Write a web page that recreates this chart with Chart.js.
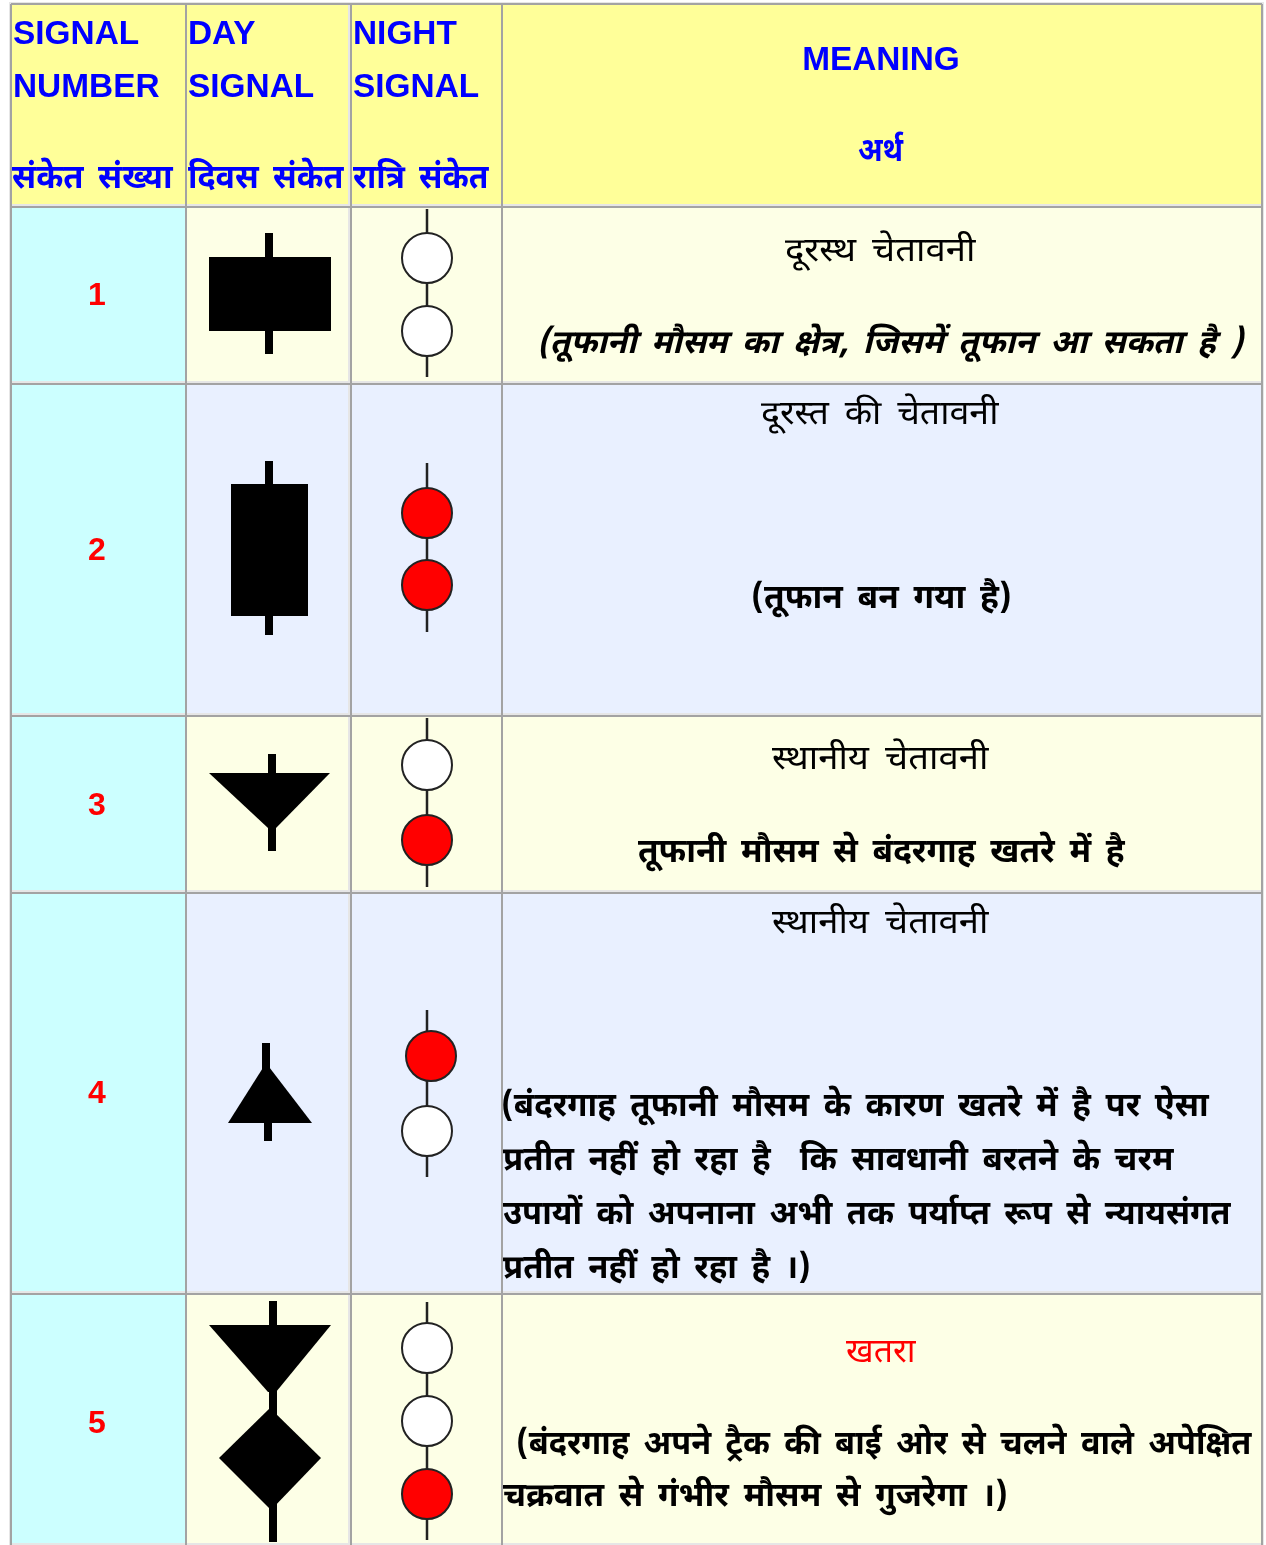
<!DOCTYPE html>
<html>
<head>
<meta charset="utf-8">
<style>
html,body{margin:0;padding:0;background:#fff;}
canvas{display:block;}
</style>
<script src="https://cdn.jsdelivr.net/npm/chart.js@4"></script>
</head>
<body>
<canvas id="signalChart" width="1266" height="1545"></canvas>
<script>
// table text
var signalNumbers = ["1","2","3","4","5"];
var headerLatin = ["SIGNAL","NUMBER","DAY","SIGNAL","NIGHT","SIGNAL","MEANING"];
var headerHindi = ["संकेत संख्या","दिवस संकेत","रात्रि संकेत","अर्थ"];
var warningTitles = ["दूरस्थ चेतावनी","दूरस्त की चेतावनी","स्थानीय चेतावनी","स्थानीय चेतावनी","खतरा"];
var warningNotes = [
	"(तूफानी मौसम का क्षेत्र, जिसमें तूफान आ सकता है )",
	"(तूफान बन गया है)",
	"तूफानी मौसम से बंदरगाह खतरे में है",
	"(बंदरगाह तूफानी मौसम के कारण खतरे में है पर ऐसा",
	"प्रतीत नहीं हो रहा है  कि सावधानी बरतने के चरम",
	"उपायों को अपनाना अभी तक पर्याप्त रूप से न्यायसंगत",
	"प्रतीत नहीं हो रहा है ।)",
	"(बंदरगाह अपने ट्रैक की बाई ओर से चलने वाले अपेक्षित",
	"चक्रवात से गंभीर मौसम से गुजरेगा ।)"
];

// night signal lamps, one list per row
var nightLamps = [
	["white","white"],
	["red","red"],
	["white","red"],
	["red","white"],
	["white","white","red"]
];

// table grid
var colEdges = [11,186,351,502,1262];
var rowEdges = [4,207,384,716,893,1294,1546];

// lamp centres and stems
var lampX = [[427,427],[427,427],[427,427],[431,427],[427,427,427]];
var lampY = [[258,331],[513,585],[765,840],[1056,1131],[1348,1421,1494]];
var stemX = [427,427,427,427,427];
var stemTop = [209,463,718,1010,1302];
var stemBottom = [377,632,887,1177,1540];

// day signal outlines
var dayShapes = [
	[[209,257],[331,257],[331,331],[209,331]],
	[[231,484],[308,484],[308,616],[231,616]],
	[[209,773],[330,773],[276,828],[268,828]],
	[[266,1063],[312,1123],[228,1123]],
	[[209,1325],[331,1325],[276,1392],[268,1392]],
	[[270,1408],[321,1458],[271,1510],[219,1458]]
];
// day signal masts: x left, x right, y top, y bottom
var dayMasts = [
	[265,273,233,354],
	[265,273,461,635],
	[268,276,754,851],
	[262,270,1043,1075],
	[264,272,1115,1141],
	[269,277,1301,1330],
	[269,277,1385,1420],
	[269,277,1500,1542]
];

var HINDI = '"Noto Sans Devanagari","Lohit Devanagari","Mangal","Noto Sans","FreeSans",sans-serif';
var LATIN = '"Liberation Sans",Arial,sans-serif';

function rectPoints(x0,x1,y0,y1){
	return [{x:x0,y:y0},{x:x1,y:y0},{x:x1,y:y1},{x:x0,y:y1},{x:x0,y:y0}];
}
function polygon(points,color){
	return {type:"scatter",showLine:true,data:points,fill:"shape",backgroundColor:color,
		borderWidth:0,pointRadius:0,tension:0,clip:false};
}
function segment(x0,y0,x1,y1,color,width){
	return {type:"scatter",showLine:true,data:[{x:x0,y:y0},{x:x1,y:y1}],fill:false,
		borderColor:color,borderWidth:width,pointRadius:0,clip:false};
}

var paint = [];
var i, j;

// pale table backing, shows through the gaps between cells
paint.push(polygon(rectPoints(colEdges[0]-2,colEdges[4]+2,rowEdges[0]-2,rowEdges[rowEdges.length-1]),"#E6E6E6"));

// cell backgrounds
for(i = 0; i < rowEdges.length-1; i++){
	for(j = 0; j < colEdges.length-1; j++){
		var color = "#FFFF99";
		if(i > 0){
			if(j == 0) color = "#CCFFFF";
			else color = (i % 2 == 1) ? "#FDFFE6" : "#E9F0FF";
		}
		var rightGap = (j == 1) ? 3 : 1;
		paint.push(polygon(rectPoints(colEdges[j]+1,colEdges[j+1]-rightGap,rowEdges[i]+1,rowEdges[i+1]-3),color));
	}
}
// grid
for(j = 0; j < colEdges.length; j++){
	paint.push(segment(colEdges[j],rowEdges[0],colEdges[j],rowEdges[rowEdges.length-1],"#A3A3A3",2));
}
for(i = 0; i < rowEdges.length-1; i++){
	paint.push(segment(colEdges[0],rowEdges[i],colEdges[4],rowEdges[i],"#A3A3A3",2));
}
// day signals
for(i = 0; i < dayShapes.length; i++){
	paint.push(polygon(dayShapes[i].concat([dayShapes[i][0]]).map(function(p){return {x:p[0],y:p[1]};}),"#000"));
}
for(i = 0; i < dayMasts.length; i++){
	var m = dayMasts[i];
	paint.push(polygon(rectPoints(m[0],m[1],m[2],m[3]),"#000"));
}
// night signals
for(i = 0; i < nightLamps.length; i++){
	paint.push(segment(stemX[i],stemTop[i],stemX[i],stemBottom[i],"#222",2.5));
	for(j = 0; j < nightLamps[i].length; j++){
		paint.push({type:"scatter",data:[{x:lampX[i][j],y:lampY[i][j]}],
			backgroundColor:nightLamps[i][j]=="red"?"#FF0000":"#FFFFFF",borderColor:"#222",
			borderWidth:2,pointRadius:25,pointHoverRadius:25,clip:false});
	}
}

// left edge, baseline, width of each text line
var latinPos = [[13,44],[13,97],[188,44],[188,97],[353,44],[353,97],[881,70]];
var hindiPos = [[12,188,162],[188,188,156],[353,188,136],[858,161,46]];
var numberY = [305,560,815,1103,1433];
var titlePos = [[785,261,192],[761,424,239],[772,769,218],[772,933,218],[846,1362,71]];
var notePos = [[540,353,705],[753,608,257],[638,862,488],[503,1116,707],[503,1170,671],
	[503,1224,728],[503,1278,306],[518,1454,734],[503,1506,503]];

// draw a line so that it spans the given width on the x scale
function drawFit(chart,ctx,str,left,y,width,font,color){
	var sx = chart.scales.x, sy = chart.scales.y;
	ctx.font = font;
	ctx.fillStyle = color;
	ctx.textAlign = "left";
	ctx.textBaseline = "alphabetic";
	var measured = ctx.measureText(str);
	var inked = measured.actualBoundingBoxRight + measured.actualBoundingBoxLeft;
	var px = sx.getPixelForValue(left), py = sy.getPixelForValue(y);
	ctx.save();
	ctx.translate(px,py);
	ctx.scale(width/inked,1);
	ctx.fillText(str,measured.actualBoundingBoxLeft,0);
	ctx.restore();
}
function drawPlain(chart,ctx,str,x,y,font,color,align){
	ctx.font = font;
	ctx.fillStyle = color;
	ctx.textAlign = align;
	ctx.textBaseline = "alphabetic";
	ctx.fillText(str,chart.scales.x.getPixelForValue(x),chart.scales.y.getPixelForValue(y));
}

var tableText = {
	id:"tableText",
	afterDatasetsDraw:function(chart){
		var ctx = chart.ctx, k;
		ctx.save();
		ctx.wordSpacing = "6px";
		for(k = 0; k < headerLatin.length; k++){
			drawPlain(chart,ctx,headerLatin[k],latinPos[k][0],latinPos[k][1],"bold 33.4px "+LATIN,"#0000FF",k==6?"center":"left");
		}
		for(k = 0; k < headerHindi.length; k++){
			var h = hindiPos[k];
			drawFit(chart,ctx,headerHindi[k],h[0],h[1],h[2],"bold 33px "+HINDI,"#0000FF");
		}
		for(k = 0; k < signalNumbers.length; k++){
			drawPlain(chart,ctx,signalNumbers[k],97,numberY[k],"bold 32px "+LATIN,"#FF0000","center");
		}
		for(k = 0; k < warningTitles.length; k++){
			var t = titlePos[k];
			drawFit(chart,ctx,warningTitles[k],t[0],t[1],t[2],"33px "+HINDI,k==4?"#FF0000":"#000");
		}
		for(k = 0; k < warningNotes.length; k++){
			var n = notePos[k];
			drawFit(chart,ctx,warningNotes[k],n[0],n[1],n[2],(k == 0 ? "italic bold 33px " : "bold 33px ")+HINDI,"#000");
		}
		ctx.restore();
	}
};

var signalChart = new Chart(document.getElementById("signalChart"),{
	type:"scatter",
	data:{datasets:paint.reverse()},
	plugins:[tableText],
	options:{
		responsive:false,
		animation:false,
		events:[],
		layout:{padding:0,autoPadding:false},
		plugins:{legend:{display:false},title:{display:false},tooltip:{enabled:false}},
		scales:{
			x:{type:"linear",min:0,max:1266,display:false},
			y:{type:"linear",min:0,max:1545,reverse:true,display:false}
		}
	}
});
</script>
</body>
</html>
